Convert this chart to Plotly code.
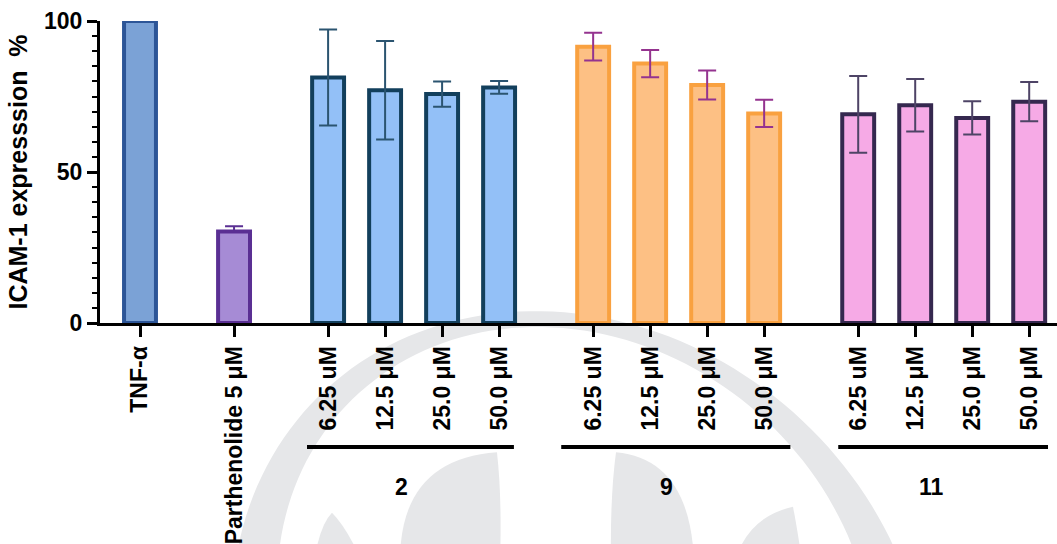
import numpy as np
import plotly.graph_objects as go

# ---- data -------------------------------------------------------------
conc_labels = ["6.25 uM", "12.5 μM", "25.0 μM", "50.0 μM"]

tnf_label = ["TNF-α"]
tnf_mean = [100.0]

parth_label = ["Parthenolide 5 μM"]
parth_mean = [30.3]
parth_err = [1.7]

c2_mean = [81.3, 77.1, 75.8, 78.0]
c2_err = [15.9, 16.3, 4.2, 2.1]

c9_mean = [91.5, 85.9, 78.8, 69.4]
c9_err = [4.6, 4.5, 4.8, 4.5]

c11_mean = [69.1, 72.1, 67.9, 73.3]
c11_err = [12.7, 8.7, 5.5, 6.5]

compound_names = ["2", "9", "11"]

# ---- styling ----------------------------------------------------------
FONT = "Liberation Sans, Arial, sans-serif"
GROUP_GAP = 1.65   # distance between neighbouring groups (bar step = 1)
BAR_W = 0.56
WM = "#e6e7e9"     # watermark grey

series = [
    dict(labels=tnf_label, mean=tnf_mean, err=None, fill="#7ba2d6", edge="#2c5597", ecol="#2c5597", up_only=False),
    dict(labels=parth_label, mean=parth_mean, err=parth_err, fill="#a68bd5", edge="#5a2f93", ecol="#5a2f93", up_only=True),
    dict(labels=conc_labels, mean=c2_mean, err=c2_err, fill="#93c0f7", edge="#123f5c", ecol="#2b5470", up_only=False),
    dict(labels=conc_labels, mean=c9_mean, err=c9_err, fill="#fdc084", edge="#f9a140", ecol="#94338f", up_only=False),
    dict(labels=conc_labels, mean=c11_mean, err=c11_err, fill="#f6aae6", edge="#35284f", ecol="#4e4466", up_only=False),
]
# per-compound underline extents (offset before first / after last bar) and label nudge
underline_pad = [(-0.37, 0.26), (-0.56, 0.46), (-0.35, 0.33)]
label_shift = -0.21

# ---- positions ---------------------------------------------------------
positions = []
start = 0.0
for s in series:
    p = [start + i for i in range(len(s["mean"]))]
    positions.append(p)
    start = p[-1] + GROUP_GAP

fig = go.Figure()
tickvals, ticktext = [], []
for s, p in zip(series, positions):
    err = None
    if s["err"] is not None:
        err = dict(
            type="data",
            array=s["err"],
            arrayminus=[0] * len(s["err"]) if s["up_only"] else s["err"],
            symmetric=not s["up_only"],
            color=s["ecol"],
            thickness=2,
            width=9,
            visible=True,
        )
    fig.add_trace(go.Bar(
        x=p, y=s["mean"], width=BAR_W,
        marker=dict(color=s["fill"], line=dict(color=s["edge"], width=4)),
        error_y=err,
        cliponaxis=False,
        showlegend=False,
        hoverinfo="skip",
    ))
    tickvals += p
    ticktext += s["labels"]

# ---- compound underlines and names ------------------------------------
LINE_Y = -0.411
NAME_Y = -0.543
for name, p, (a, b) in zip(compound_names, positions[2:], underline_pad):
    fig.add_shape(type="line", xref="x", yref="paper",
                  x0=p[0] + a, x1=p[-1] + b, y0=LINE_Y, y1=LINE_Y,
                  line=dict(color="black", width=4))
    fig.add_annotation(x=(p[0] + p[-1]) / 2 + label_shift, y=NAME_Y,
                       xref="x", yref="paper", text=name, showarrow=False,
                       font=dict(family=FONT, size=23, color="black", weight="bold"),
                       xanchor="center", yanchor="middle")

# ---- watermark logo (drawn in pixel space, converted to paper units) ---
W, H = 1057, 544
ML, MR, MT, MB = 100, 0, 21, 219
PW, PH = W - ML - MR, H - MT - MB


def to_paper(px, py):
    return (px - ML) / PW, (H - MB - py) / PH


def fmt(px, py):
    x, y = to_paper(px, py)
    return f"{x:.4f},{y:.4f}"


def arc_points(cx, cy, r, t0, t1, n=80, shear=0.13, y_ref=400):
    ts = np.radians(np.linspace(t0, t1, n))
    pts = []
    for t in ts:
        y = cy - r * np.sin(t)
        x = cx + r * np.cos(t) + shear * (y - y_ref)
        pts.append((x, y))
    return pts


outer = arc_points(546.5, 658, 345, 166, 14)
inner = arc_points(546.5, 625, 296, 11, 169)
band = "M " + " L ".join(fmt(*q) for q in outer + inner) + " Z"

leaves = [
    # left leaf
    f"M {fmt(497,455)} Q {fmt(400,462)} {fmt(400,565)} L {fmt(500,565)} Q {fmt(502,500)} {fmt(497,455)} Z",
    # right leaf
    f"M {fmt(616,455)} Q {fmt(690,462)} {fmt(694,565)} L {fmt(611,565)} Q {fmt(610,500)} {fmt(616,455)} Z",
    # small tips near the bottom edge
    f"M {fmt(332,516)} Q {fmt(320,528)} {fmt(314,565)} L {fmt(362,565)} Q {fmt(346,530)} {fmt(332,516)} Z",
    f"M {fmt(793,510)} Q {fmt(748,520)} {fmt(735,565)} L {fmt(802,565)} Q {fmt(797,530)} {fmt(793,510)} Z",
]
for path in [band] + leaves:
    fig.add_shape(type="path", path=path, xref="paper", yref="paper",
                  fillcolor=WM, line=dict(width=0), layer="below")

# ---- axes & layout -----------------------------------------------------
x_lo = -40 / 57.0
x_hi = x_lo + PW / 57.0

fig.update_layout(
    width=W, height=H,
    margin=dict(l=ML, r=MR, t=MT, b=MB, pad=0),
    paper_bgcolor="white", plot_bgcolor="rgba(0,0,0,0)",
    barmode="overlay",
    font=dict(family=FONT, color="black"),
    xaxis=dict(
        range=[x_lo, x_hi], tickmode="array", tickvals=tickvals, ticktext=ticktext,
        tickangle=-90, ticks="outside", ticklen=11, tickwidth=3, tickcolor="black",
        showline=True, linewidth=3, linecolor="black", showgrid=False, zeroline=False,
        tickfont=dict(family=FONT, size=23, color="black", weight="bold"),
    ),
    yaxis=dict(
        range=[0, 100], tickmode="array", tickvals=[0, 50, 100],
        ticks="outside", ticklen=10, tickwidth=3, tickcolor="black",
        minor=dict(dtick=5, ticklen=5, tickwidth=2, tickcolor="black", ticks="outside", showgrid=False),
        showline=True, linewidth=3, linecolor="black", showgrid=False, zeroline=False,
        tickfont=dict(family=FONT, size=23, color="black", weight="bold"),
        title=dict(text="ICAM-1 expresssion\u00a0 %", standoff=10,
                   font=dict(family=FONT, size=25, color="black", weight="bold")),
    ),
)

fig.write_html("out.html")
